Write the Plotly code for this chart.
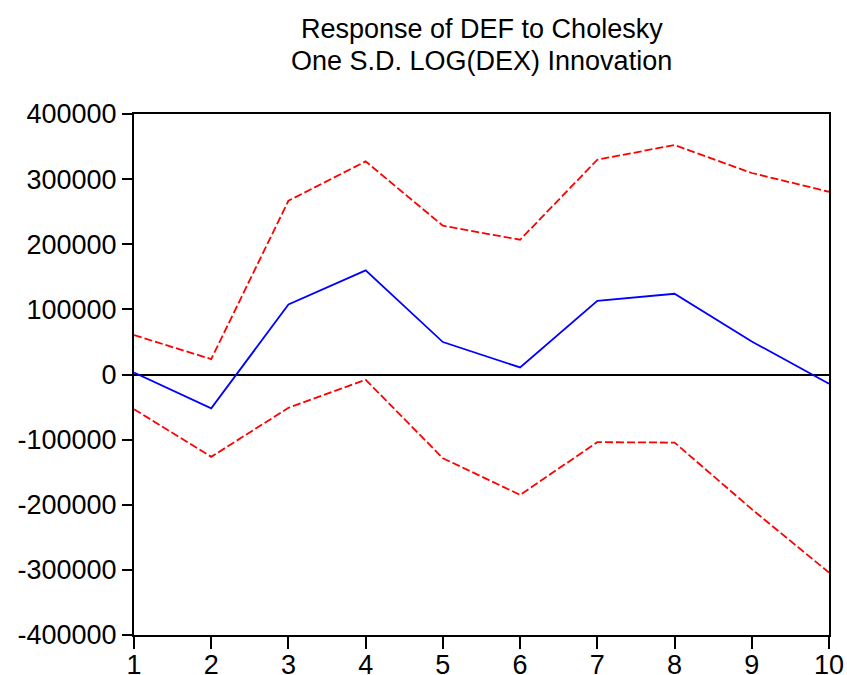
import plotly.graph_objects as go

# Impulse response horizon
periods = [1, 2, 3, 4, 5, 6, 7, 8, 9, 10]

# Response of DEF to a one S.D. LOG(DEX) shock, with +/- 2 S.E. bands
response = [3000, -52000, 107500, 159800, 49800, 10800, 113200, 124000, 50700, -14300]
upper_band = [60500, 23600, 266800, 327200, 228400, 206900, 329800, 352400, 309400, 280600]
lower_band = [-53200, -126400, -51200, -8100, -128500, -184800, -103900, -104500, -206800, -304100]

y_ticks = [-400000, -300000, -200000, -100000, 0, 100000, 200000, 300000, 400000]
y_tick_text = [str(v) for v in y_ticks]

title_lines = ["Response of DEF to Cholesky", "One S.D. LOG(DEX) Innovation"]

font_family = "Liberation Sans, Arial, sans-serif"
font_size = 27

fig = go.Figure()

fig.add_trace(go.Scatter(
    x=periods, y=upper_band, mode="lines",
    line=dict(color="#ff0000", width=1.8, dash="8px,3px"),
    hoverinfo="skip", showlegend=False,
))
fig.add_trace(go.Scatter(
    x=periods, y=lower_band, mode="lines",
    line=dict(color="#ff0000", width=1.8, dash="8px,3px"),
    hoverinfo="skip", showlegend=False,
))
fig.add_trace(go.Scatter(
    x=periods, y=response, mode="lines",
    line=dict(color="#0000ff", width=1.8),
    showlegend=False,
))

# Two-line heading above the plot frame
for text, ypos in zip(title_lines, [1.164, 1.1026]):
    fig.add_annotation(
        text=text, xref="paper", yref="paper", x=0.5, y=ypos,
        xanchor="center", yanchor="middle", showarrow=False,
        font=dict(family=font_family, size=font_size, color="black"),
    )

fig.update_layout(
    width=847, height=675,
    margin=dict(l=134, r=18, t=114, b=40, autoexpand=False),
    paper_bgcolor="white", plot_bgcolor="white",
    font=dict(family=font_family, size=font_size, color="black"),
    xaxis=dict(
        range=[1, 10], automargin=False,
        tickmode="array", tickvals=periods, ticktext=[str(p) for p in periods],
        showgrid=False, zeroline=False,
        showline=True, linecolor="black", linewidth=2, mirror=True,
        ticks="outside", ticklen=12, tickwidth=1.5, tickcolor="black",
        ticklabelstandoff=-7,
    ),
    yaxis=dict(
        range=[-400000, 400000], automargin=False,
        tickmode="array", tickvals=y_ticks, ticktext=y_tick_text,
        showgrid=False,
        zeroline=True, zerolinecolor="black", zerolinewidth=1.5,
        showline=True, linecolor="black", linewidth=2, mirror=True,
        ticks="outside", ticklen=10, tickwidth=1.5, tickcolor="black",
        ticklabelstandoff=0,
    ),
)

fig.write_html("out.html")
